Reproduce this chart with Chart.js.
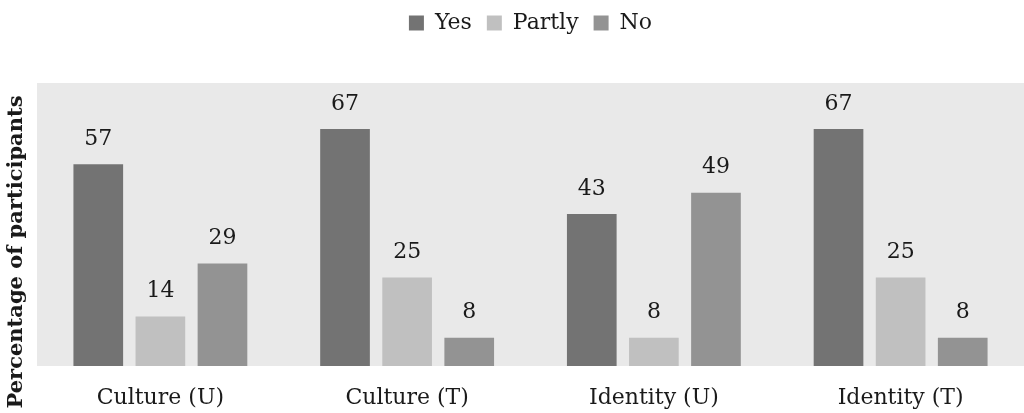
<!DOCTYPE html>
<html>
<head>
<meta charset="utf-8">
<script src="https://cdn.jsdelivr.net/npm/chart.js@4"></script>
<style>
  html, body { margin: 0; padding: 0; background: #fff; }
  #wrap { width: 1024px; height: 413px; position: relative; }
</style>
</head>
<body>
<div id="wrap"><canvas id="chart"></canvas></div>
<script>
// データ
const categories = ['Culture (U)', 'Culture (T)', 'Identity (U)', 'Identity (T)'];
const yesValues = [57, 67, 43, 67];
const partlyValues = [14, 25, 8, 25];
const noValues = [29, 8, 49, 8];
const yMax = 80;
const yTitle = 'Percentage of participants';

const FONT = '"DejaVu Serif", serif';
const COLORS = {
  yes: '#737373',
  partly: '#c0c0c0',
  no: '#939393',
  plotBg: '#e9e9e9',
  text: '#1a1a1a'
};

// 凡例の下に余白を追加
const legendMargin = {
  id: 'legendMargin',
  beforeInit(chart) {
    const origFit = chart.legend.fit;
    chart.legend.fit = function() {
      origFit.bind(chart.legend)();
      this.height += 39;
    };
  }
};

// プロット背景
const plotBackground = {
  id: 'plotBackground',
  beforeDraw(chart) {
    const a = chart.chartArea;
    const ctx = chart.ctx;
    ctx.save();
    ctx.fillStyle = COLORS.plotBg;
    ctx.fillRect(a.left, a.top, a.right - a.left, a.bottom - a.top);
    ctx.restore();
  }
};

// 値ラベルとY軸タイトル
const valueLabels = {
  id: 'valueLabels',
  afterDatasetsDraw(chart) {
    const ctx = chart.ctx;
    ctx.save();
    ctx.fillStyle = COLORS.text;
    ctx.font = '22px ' + FONT;
    ctx.textAlign = 'center';
    ctx.textBaseline = 'bottom';
    chart.data.datasets.forEach((ds, i) => {
      chart.getDatasetMeta(i).data.forEach((bar, j) => {
        ctx.fillText(String(ds.data[j]), bar.x, bar.y - 14);
      });
    });
    // Y軸タイトル
    ctx.font = 'bold 21px ' + FONT;
    ctx.translate(17, 252);
    ctx.rotate(-Math.PI / 2);
    ctx.textBaseline = 'middle';
    ctx.fillText(yTitle, 0, 0);
    ctx.restore();
  }
};

new Chart(document.getElementById('chart'), {
  type: 'bar',
  data: {
    labels: categories,
    datasets: [
      { label: 'Yes', data: yesValues, backgroundColor: COLORS.yes },
      { label: 'Partly', data: partlyValues, backgroundColor: COLORS.partly },
      { label: 'No', data: noValues, backgroundColor: COLORS.no }
    ]
  },
  options: {
    responsive: true,
    maintainAspectRatio: false,
    animation: false,
    layout: { padding: { left: 37, right: 0, top: -3, bottom: 2 } },
    datasets: {
      bar: { categoryPercentage: 0.755, barPercentage: 0.8 }
    },
    plugins: {
      legend: {
        position: 'top',
        labels: {
          boxWidth: 15,
          boxHeight: 15,
          color: COLORS.text,
          font: { family: FONT, size: 22 },
          padding: 15
        }
      },
      tooltip: { enabled: false }
    },
    scales: {
      x: {
        grid: { display: false, drawTicks: false },
        border: { display: false },
        ticks: { color: COLORS.text, font: { family: FONT, size: 22 }, padding: 19 },
        afterFit(scale) {
          scale.height = 45;
        }
      },
      y: {
        display: false,
        min: 0,
        max: yMax
      }
    }
  },
  plugins: [legendMargin, plotBackground, valueLabels]
});
</script>
</body>
</html>
